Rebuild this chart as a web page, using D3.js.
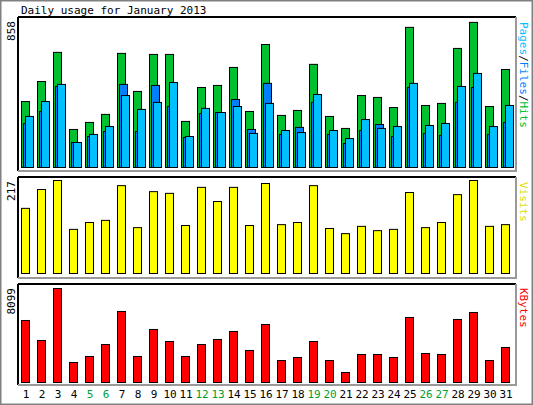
<!DOCTYPE html><html><head><meta charset="utf-8"><script src="https://cdn.jsdelivr.net/npm/d3@7"></script>
<style>body{margin:0;background:#fff}text{font-family:"DejaVu Sans Mono",monospace;font-size:11px}</style></head><body><svg id="c" width="533" height="405"></svg><script>
const days=d3.range(1,32);
const weekends=[5,6,12,13,19,20,26,27];
const hits=[385,502,672,222,263,310,666,444,660,660,269,467,479,584,327,718,304,333,602,298,228,420,409,350,818,362,374,695,847,356,572];
const files=[257,327,473,146,181,210,485,210,479,356,175,315,321,397,222,491,193,234,380,193,140,216,251,181,467,199,187,380,467,193,263];
const pages=[298,385,485,146,193,239,420,339,380,496,181,345,321,356,199,374,216,204,426,216,169,280,228,239,491,245,257,473,549,239,362];
const visits=[152,196,217,103,119,124,205,107,191,187,112,201,168,201,112,210,114,119,205,105,93,110,100,103,189,107,119,184,217,110,114];
const kbytes=[5343,3620,8099,1724,2241,3275,6119,2241,4568,3533,2241,3275,3706,4395,2758,4998,1896,2155,3533,1896,862,2413,2413,2155,5602,2499,2413,5430,6033,1896,3016];
const maxLabels=["858","217","8099"];
const svg=d3.select("#c");
svg.append("rect").attr("x",0.5).attr("y",0.5).attr("width",532).attr("height",404).attr("fill","#fff").attr("stroke","#808080").attr("stroke-width",2);
svg.append("text").attr("x",21).attr("y",14).text("Daily usage for January 2013");
const x=d3.scaleLinear().domain([1,32]).range([21,517]);
function frame(y0,y1){
  svg.append("line").attr("x1",18).attr("x2",516).attr("y1",y0).attr("y2",y0).attr("stroke","#000").attr("stroke-width",2);
  svg.append("line").attr("x1",18).attr("x2",18).attr("y1",y0).attr("y2",y1).attr("stroke","#000").attr("stroke-width",2);
  svg.append("line").attr("x1",18).attr("x2",517).attr("y1",y1).attr("y2",y1).attr("stroke","#999").attr("stroke-width",2);
  svg.append("line").attr("x1",516).attr("x2",516).attr("y1",y0).attr("y2",y1).attr("stroke","#999").attr("stroke-width",2);
}
function bars(data,y,dx,w,color){
  svg.append("g").selectAll("rect").data(data).join("rect")
   .attr("x",(d,i)=>x(days[i])+dx+0.5).attr("y",d=>y(d)+0.5).attr("width",w).attr("height",d=>y(0)-y(d))
   .attr("fill",color).attr("stroke","#000").attr("stroke-width",1);
}
function vlabel(xp,yp,parts){
  const t=svg.append("text").attr("transform",`translate(${xp},${yp}) rotate(90)`);
  parts.forEach(p=>t.append("tspan").attr("fill",p[1]).text(p[0]));
}
function leftLabel(txt,yp){svg.append("text").attr("transform",`translate(15,${yp}) rotate(-90)`).attr("text-anchor","end").text(txt);}
// top
frame(17,171);
const y1=d3.scaleLinear().domain([0,858]).range([167,20]);
bars(hits,y1,0,8,"#00c030");bars(files,y1,2,8,"#0080ff");bars(pages,y1,4,8,"#00c0ff");
leftLabel(maxLabels[0],21);
vlabel(520,22,[["Pages","#00c0ff"],["/","#000"],["Files","#0080ff"],["/","#000"],["Hits","#00c030"]]);
// visits
frame(177,278);
const y2=d3.scaleLinear().domain([0,217]).range([273,180]);
bars(visits,y2,0,8,"#ffff00");
leftLabel(maxLabels[1],181);
vlabel(520,182,[["Visits","#e0e000"]]);
// kbytes
frame(284,385);
const y3=d3.scaleLinear().domain([0,8099]).range([382,288]);
bars(kbytes,y3,0,8,"#ff0000");
leftLabel(maxLabels[2],288);
vlabel(520,288,[["KBytes","#ff0000"]]);
svg.append("g").selectAll("text").data(days).join("text").attr("x",d=>x(d)+5).attr("y",398).attr("text-anchor","middle")
 .attr("fill",d=>weekends.includes(d)?"#00a030":"#000").text(d=>d);
</script></body></html>
